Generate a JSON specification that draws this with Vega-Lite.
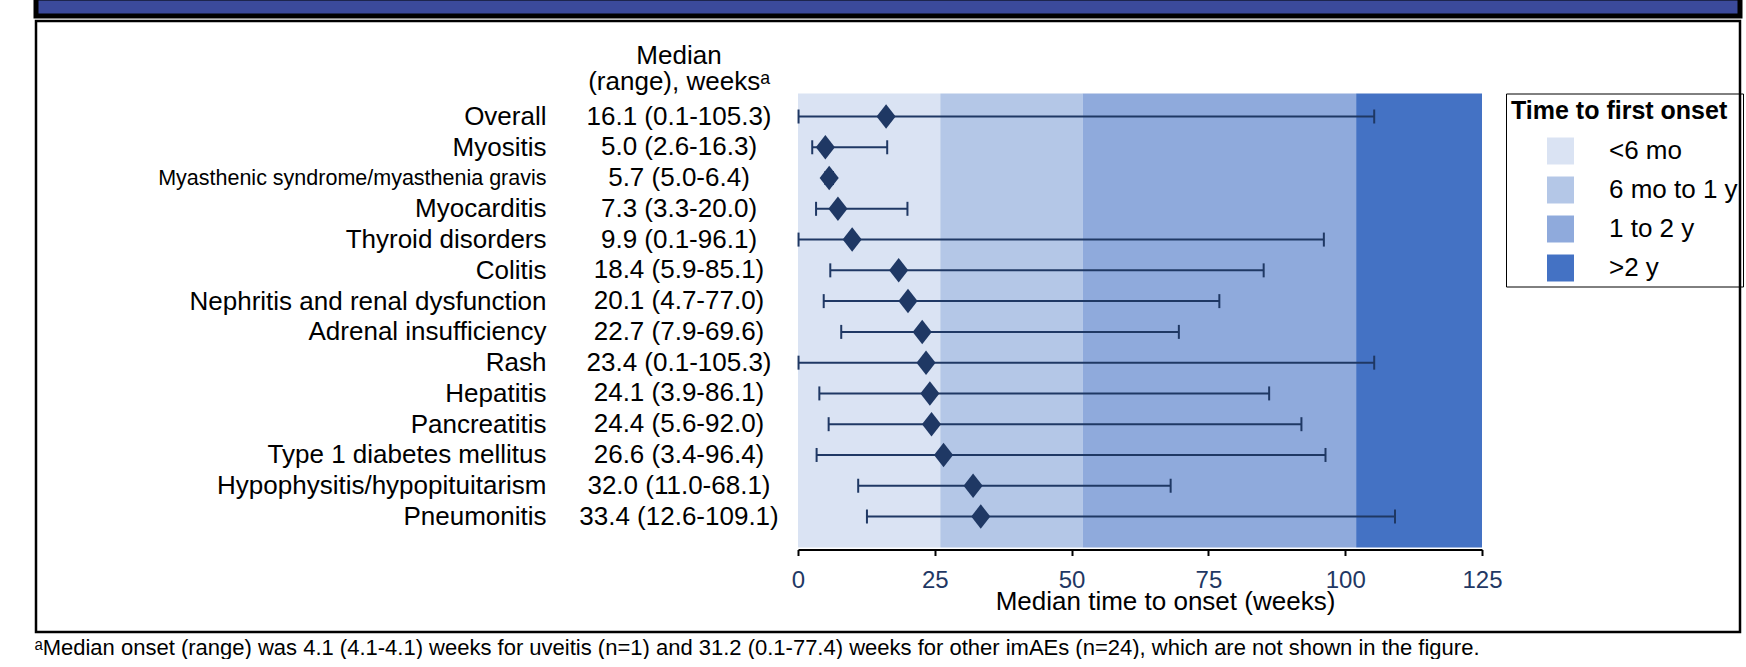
{
  "$schema": "https://vega.github.io/schema/vega-lite/v6.json",
  "padding": {"left": 33, "top": -5, "right": 0, "bottom": 0},
  "background": "white",
  "config": {"font": "Liberation Sans", "view": {"stroke": null}},
  "datasets": {
    "rows": [
      {"name": "Overall", "median": 16.1, "low": 0.1, "high": 105.3, "range_text": "16.1 (0.1-105.3)"},
      {"name": "Myositis", "median": 5.0, "low": 2.6, "high": 16.3, "range_text": "5.0 (2.6-16.3)"},
      {"name": "Myasthenic syndrome/myasthenia gravis", "median": 5.7, "low": 5.0, "high": 6.4, "range_text": "5.7 (5.0-6.4)"},
      {"name": "Myocarditis", "median": 7.3, "low": 3.3, "high": 20.0, "range_text": "7.3 (3.3-20.0)"},
      {"name": "Thyroid disorders", "median": 9.9, "low": 0.1, "high": 96.1, "range_text": "9.9 (0.1-96.1)"},
      {"name": "Colitis", "median": 18.4, "low": 5.9, "high": 85.1, "range_text": "18.4 (5.9-85.1)"},
      {"name": "Nephritis and renal dysfunction", "median": 20.1, "low": 4.7, "high": 77.0, "range_text": "20.1 (4.7-77.0)"},
      {"name": "Adrenal insufficiency", "median": 22.7, "low": 7.9, "high": 69.6, "range_text": "22.7 (7.9-69.6)"},
      {"name": "Rash", "median": 23.4, "low": 0.1, "high": 105.3, "range_text": "23.4 (0.1-105.3)"},
      {"name": "Hepatitis", "median": 24.1, "low": 3.9, "high": 86.1, "range_text": "24.1 (3.9-86.1)"},
      {"name": "Pancreatitis", "median": 24.4, "low": 5.6, "high": 92.0, "range_text": "24.4 (5.6-92.0)"},
      {"name": "Type 1 diabetes mellitus", "median": 26.6, "low": 3.4, "high": 96.4, "range_text": "26.6 (3.4-96.4)"},
      {"name": "Hypophysitis/hypopituitarism", "median": 32.0, "low": 11.0, "high": 68.1, "range_text": "32.0 (11.0-68.1)"},
      {"name": "Pneumonitis", "median": 33.4, "low": 12.6, "high": 109.1, "range_text": "33.4 (12.6-109.1)"}
    ],
    "bands": [
      {"band": "<6 mo", "start": 0, "end": 26},
      {"band": "6 mo to 1 y", "start": 26, "end": 52},
      {"band": "1 to 2 y", "start": 52, "end": 102},
      {"band": ">2 y", "start": 102, "end": 125}
    ],
    "empty": []
  },
  "columns": 1,
  "align": "none",
  "spacing": 0,
  "concat": [
    {
      "width": 1704,
      "height": 18,
      "view": {"fill": "#3B4A9B", "stroke": "black", "strokeWidth": 5},
      "data": {"name": "empty"},
      "mark": "rect",
      "encoding": {}
    },
    {
      "columns": 1,
      "align": "none",
      "spacing": -591.5,
      "concat": [
        {
          "width": 1704,
          "height": 611,
          "view": {"fill": null, "stroke": "black", "strokeWidth": 2.5},
          "data": {"name": "empty"},
          "mark": "rect",
          "encoding": {}
        },
        {
          "spacing": 19,
          "bounds": "flush",
          "resolve": {"scale": {"color": "independent"}, "legend": {"color": "independent"}},
          "hconcat": [
            {
              "width": 524,
              "height": 454,
              "data": {"name": "empty"},
              "mark": "rect",
              "encoding": {}
            },
            {
              "width": 200,
              "height": 454,
              "data": {"name": "rows"},
              "title": {
                "text": ["Median", "(range), weeksᵃ"],
                "fontSize": 26,
                "fontWeight": "normal",
                "anchor": "middle",
                "frame": "group",
                "baseline": "bottom",
                "offset": -27.5,
                "lineHeight": 26,
                "color": "black"
              },
              "mark": {"type": "text", "fontSize": 26, "color": "black", "baseline": "middle", "align": "center"},
              "encoding": {
                "y": {
                  "field": "name",
                  "type": "nominal",
                  "sort": null,
                  "scale": {"type": "point", "padding": 0.8775, "align": 0.426},
                  "axis": {
                    "labelFontSize": {"condition": {"test": "datum.value === 'Myasthenic syndrome/myasthenia gravis'", "value": 21.5}, "value": 26},
                    "labelColor": "black",
                    "labelPadding": 33,
                    "ticks": false,
                    "domain": false,
                    "labelLimit": 0,
                    "labelAlign": "right",
                    "labelBaseline": "middle",
                    "title": " ᵃMedian onset (range) was 4.1 (4.1-4.1) weeks for uveitis (n=1) and 31.2 (0.1-77.4) weeks for other imAEs (n=24), which are not shown in the figure.",
                    "titleAngle": 0,
                    "titleX": -545,
                    "titleY": 554,
                    "titleAlign": "left",
                    "titleBaseline": "middle",
                    "titleFontSize": 22,
                    "titleFontWeight": "normal",
                    "titleColor": "black",
                    "titleLimit": 0
                  }
                },
                "text": {"field": "range_text"}
              }
            },
            {
              "width": 684,
              "height": 454,
              "layer": [
                {
                  "data": {"name": "bands"},
                  "mark": {"type": "rect"},
                  "encoding": {
                    "x": {
                      "field": "start",
                      "type": "quantitative",
                      "scale": {"domain": [0, 125], "nice": false},
                      "axis": {
                        "values": [0, 25, 50, 75, 100, 125],
                        "domainColor": "black",
                        "domainWidth": 2,
                        "tickColor": "black",
                        "tickWidth": 2,
                        "tickSize": 6,
                        "labelFontSize": 24,
                        "labelColor": "#1F3864",
                        "labelPadding": 13,
                        "labelFlush": false,
                        "offset": 2,
                        "grid": false,
                        "title": "Median time to onset (weeks)",
                        "titleFontSize": 26,
                        "titleFontWeight": "normal",
                        "titleColor": "black",
                        "titleX": 367,
                        "titleY": 60,
                        "titleAlign": "center",
                        "titleBaseline": "alphabetic"
                      }
                    },
                    "x2": {"field": "end"},
                    "color": {
                      "field": "band",
                      "type": "nominal",
                      "scale": {
                        "domain": ["<6 mo", "6 mo to 1 y", "1 to 2 y", ">2 y"],
                        "range": ["#DAE3F3", "#B4C7E7", "#8FAADC", "#4472C4"]
                      },
                      "legend": {
                        "title": "Time to first onset",
                        "orient": "right",
                        "offset": 24,
                        "padding": 5,
                        "strokeColor": "black",
                        "titleFontSize": 25,
                        "titleFontWeight": "bold",
                        "titleColor": "black",
                        "titlePadding": 14,
                        "titleLimit": 0,
                        "labelFontSize": 26,
                        "labelColor": "black",
                        "labelLimit": 0,
                        "labelOffset": 35,
                        "symbolType": "square",
                        "symbolSize": 729,
                        "symbolStrokeWidth": 0,
                        "symbolOffset": 36,
                        "rowPadding": 12
                      }
                    }
                  }
                },
                {
                  "data": {"name": "rows"},
                  "mark": {"type": "rule", "color": "#1F3864", "strokeWidth": 2},
                  "encoding": {
                    "y": {"field": "name", "type": "nominal", "sort": null, "scale": {"type": "point", "padding": 0.8775, "align": 0.426}, "axis": null},
                    "x": {"field": "low", "type": "quantitative"},
                    "x2": {"field": "high"}
                  }
                },
                {
                  "data": {"name": "rows"},
                  "mark": {"type": "tick", "color": "#1F3864", "thickness": 2, "size": 14, "opacity": 1},
                  "encoding": {
                    "y": {"field": "name", "type": "nominal", "sort": null, "axis": null},
                    "x": {"field": "low", "type": "quantitative"}
                  }
                },
                {
                  "data": {"name": "rows"},
                  "mark": {"type": "tick", "color": "#1F3864", "thickness": 2, "size": 14, "opacity": 1},
                  "encoding": {
                    "y": {"field": "name", "type": "nominal", "sort": null, "axis": null},
                    "x": {"field": "high", "type": "quantitative"}
                  }
                },
                {
                  "data": {"name": "rows"},
                  "mark": {"type": "point", "shape": "M0,-1L0.78,0L0,1L-0.78,0Z", "filled": true, "size": 600, "color": "#1F3864", "opacity": 1},
                  "encoding": {
                    "y": {"field": "name", "type": "nominal", "sort": null, "axis": null},
                    "x": {"field": "median", "type": "quantitative"}
                  }
                }
              ]
            }
          ]
        }
      ]
    }
  ]
}
